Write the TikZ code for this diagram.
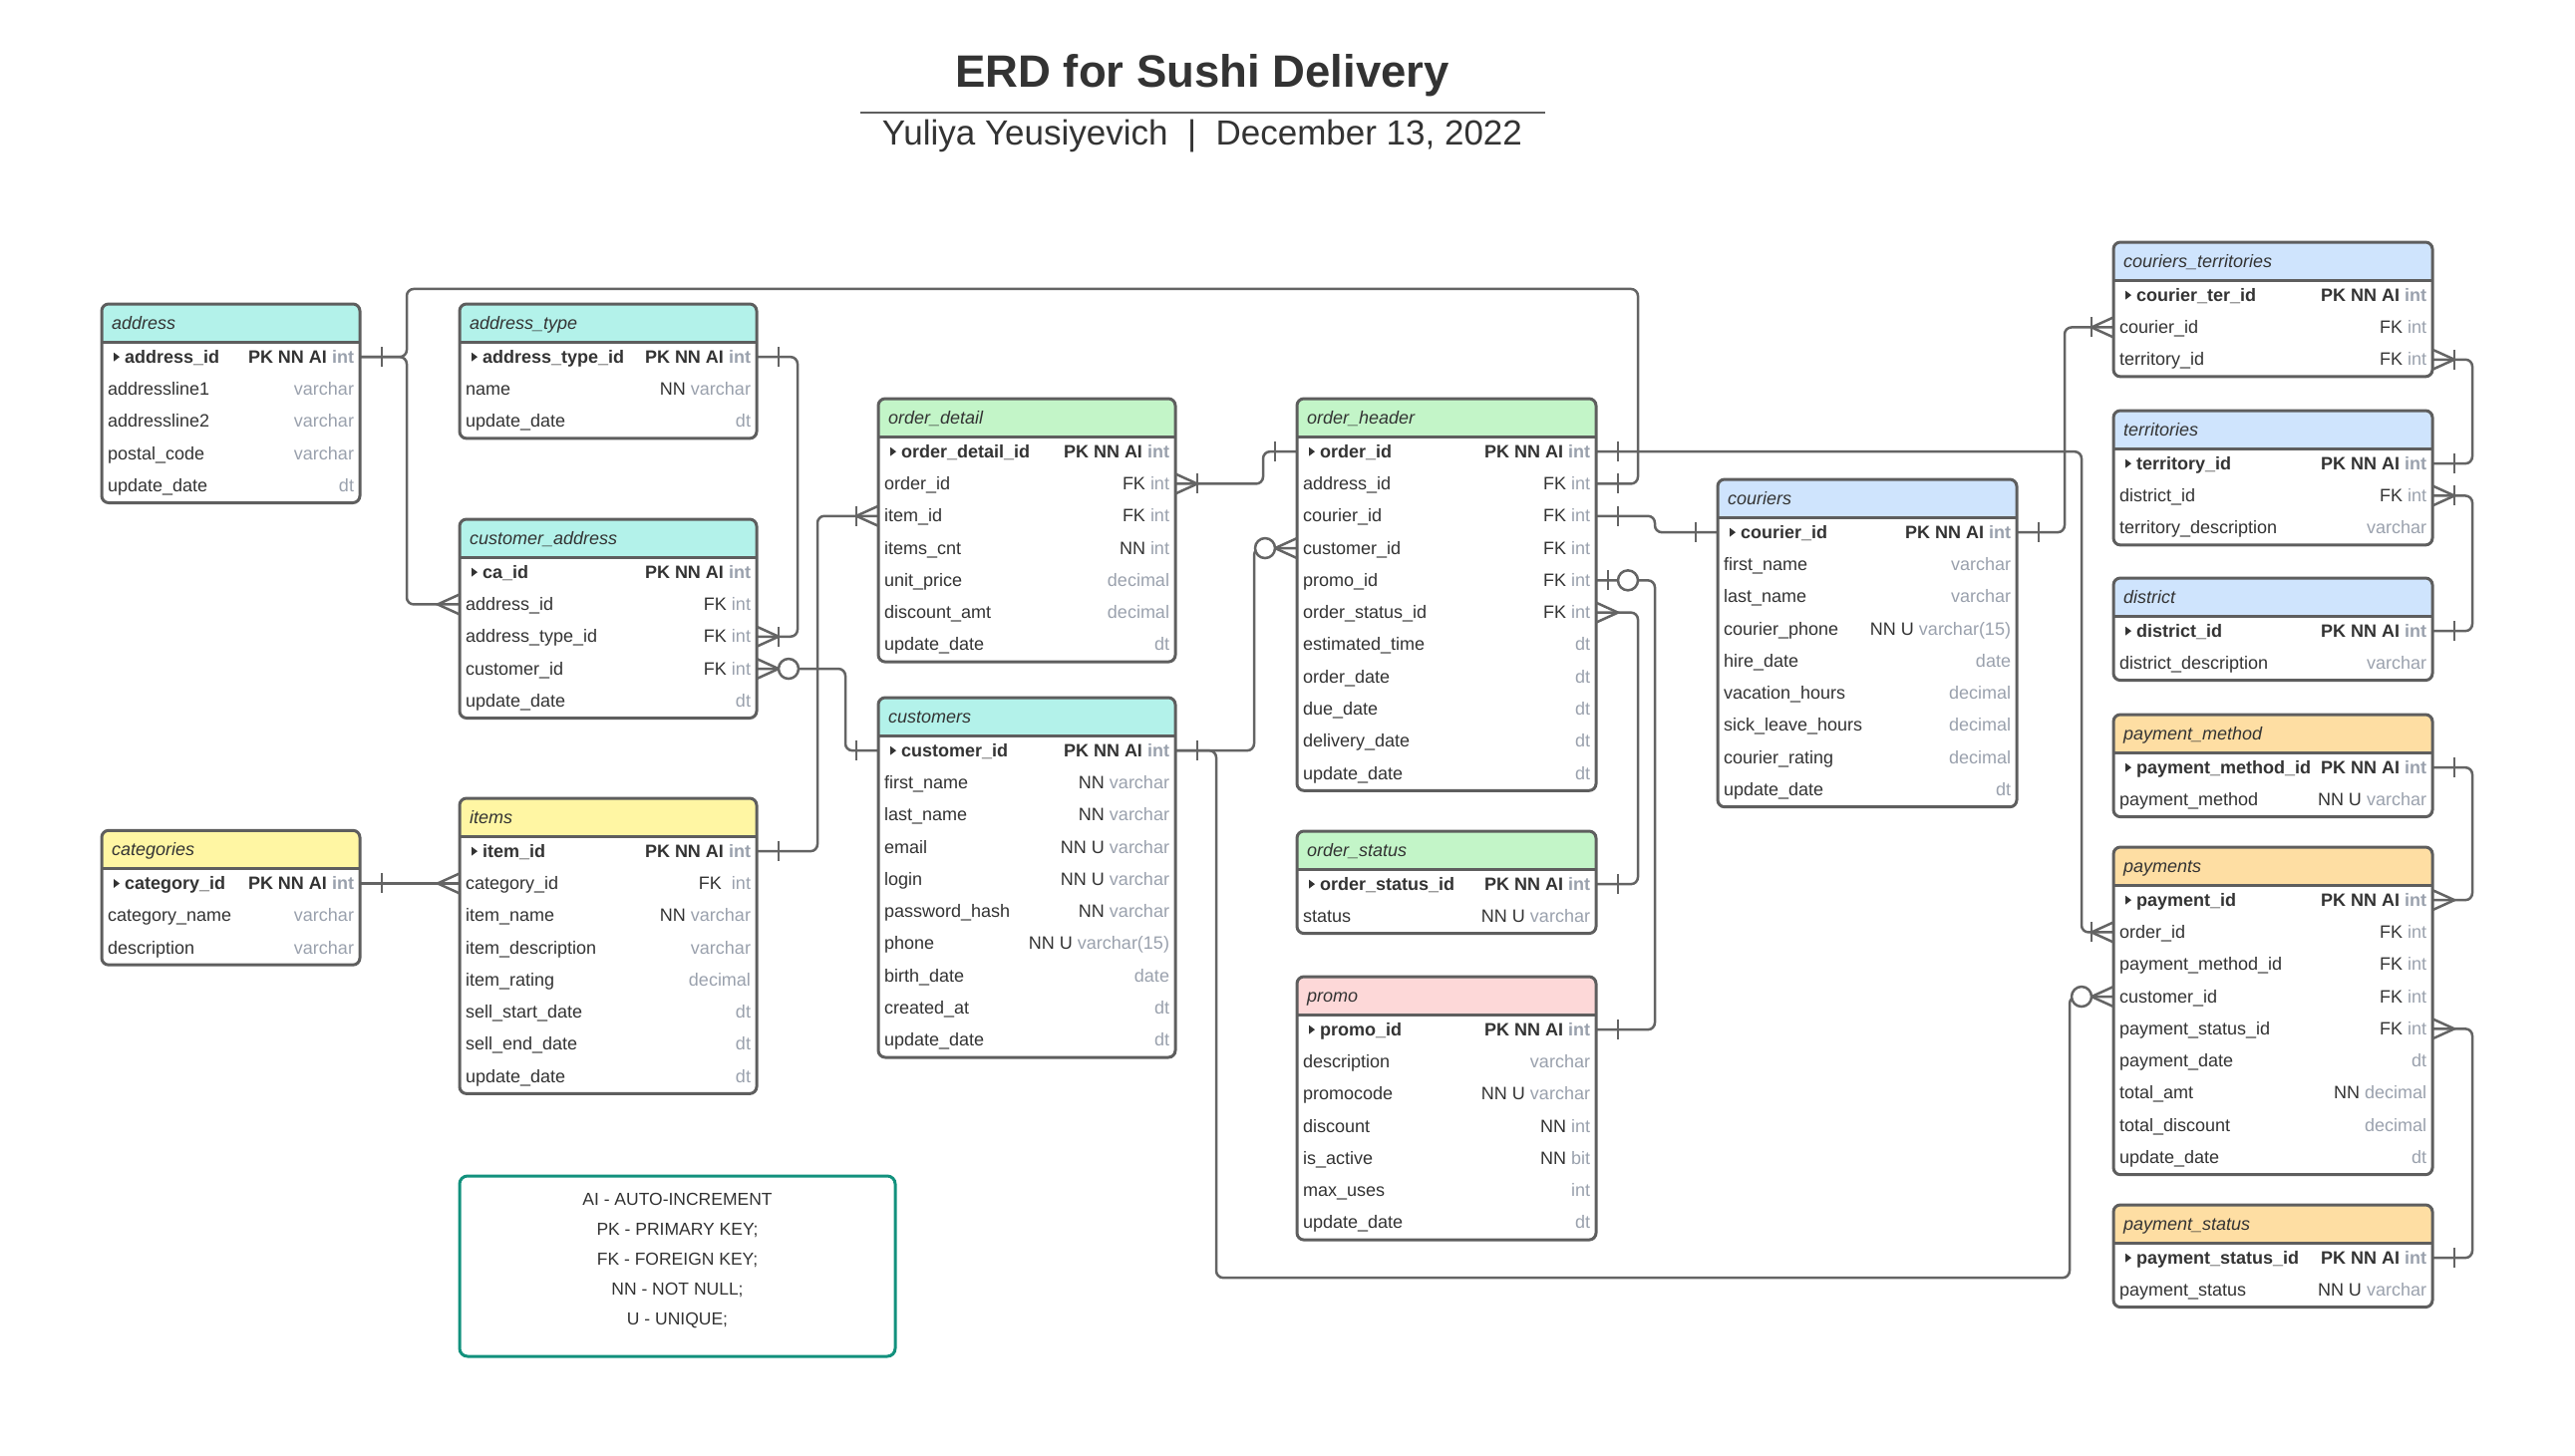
\documentclass[tikz,border=0pt]{standalone}
\usepackage{fontspec}
\setmainfont{Liberation Sans}
\usetikzlibrary{calc}
\pgfdeclarelayer{back}
\pgfdeclarelayer{wires}
\pgfsetlayers{back,wires,main}
\definecolor{cyanH}{HTML}{B3F2EA}
\definecolor{greenH}{HTML}{C3F5C8}
\definecolor{blueH}{HTML}{CFE4FD}
\definecolor{yellowH}{HTML}{FFF6A3}
\definecolor{orangeH}{HTML}{FEDEA3}
\definecolor{pinkH}{HTML}{FDD8D8}
\definecolor{tborderC}{HTML}{5E5E5E}
\definecolor{lineC}{HTML}{646464}
\definecolor{tdark}{HTML}{333333}
\definecolor{tgray}{HTML}{9AA1AD}
\definecolor{legendC}{HTML}{12917D}
\newcommand\gtype[1]{\textcolor{tgray}{#1}}
\tikzset{
  conn/.style={draw=lineC, line width=2.5, rounded corners=7},
  erm/.style={draw=lineC, line width=2.5, sharp corners},
  tbox/.style={fill=white, inner sep=0, outer sep=0, rectangle, rounded corners=7},
  tline/.style={draw=tborderC, line width=3},
  rowbox/.style={inner sep=0, outer sep=0, minimum height=32.3, rectangle},
  rtext/.style={inner sep=0, outer sep=0, text=tdark},
  erone/.pic={\draw[erm] (22,-10) -- (22,10);},
  ermany/.pic={\draw[erm] (0,-10) -- (22,0) -- (0,10);},
  eronemany/.pic={\draw[erm] (0,-10) -- (22,0) -- (0,10); \draw[erm] (22,-10) -- (22,10);},
  erzeromany/.pic={\draw[erm] (0,-10) -- (22,0) -- (0,10); \draw[erm,fill=white] (32,0) circle[radius=10];},
  erzeroone/.pic={\draw[erm] (12,-10) -- (12,10); \draw[erm,fill=white] (32,0) circle[radius=10];},
}
% #1 id, #2 left, #3 right, #4 top, #5 header colour, #6 title, #7 rows name/right
\newcommand\erdtable[7]{%
  \pgfmathsetmacro\tW{#3-#2}%
  \gdef\nrows{0}%
  \foreach \rn/\rv [count=\ri] in {#7} {\xdef\nrows{\ri}}%
  \pgfmathsetmacro\tH{38+\nrows*32.3}%
  \node[tbox, minimum width=\tW, minimum height=\tH, anchor=north west] (#1) at (#2,#4) {};
  \fill[#5, rounded corners=7] (#2,#4+38) -- (#2,#4) -- (#3,#4) -- (#3,#4+38);
  \draw[tline, rounded corners=7] (#1.north west) rectangle (#1.south east);
  \draw[tline] (#2,#4+38) -- (#3,#4+38);
  \node[rtext, anchor=base west] at (#2+10,#4+25) {\itshape #6};
  \foreach \rn/\rv [count=\ri] in {#7} {
    \pgfmathsetmacro\ry{#4+37+(\ri-0.5)*32.3}
    \node[rowbox, minimum width=\tW] (#1-\ri) at ({(#2+#3)/2},\ry) {};
    \ifnum\ri=1
      \fill[tdark] (#2+12,\ry-4.5) -- (#2+18,\ry) -- (#2+12,\ry+4.5) -- cycle;
      \node[rtext, anchor=base west] at (#2+23,\ry+6) {\bfseries\rn};
      \node[rtext, anchor=base east] at (#3-6,\ry+6) {\bfseries\rv};
    \else
      \node[rtext, anchor=base west] at (#2+6,\ry+6) {\rn};
      \node[rtext, anchor=base east] at (#3-6,\ry+6) {\rv};
    \fi
  }
}
\begin{document}
\begin{tikzpicture}[x=1pt, y=-1pt, font=\fontsize{18}{21}\selectfont]
\begin{pgfonlayer}{back}
\fill[white] (0,0) rectangle (2583,1461);
\end{pgfonlayer}
\useasboundingbox (0,0) rectangle (2583,1461);

% title
\node[inner sep=0, anchor=base, text=tdark, font=\bfseries\fontsize{45.5}{50}\selectfont] (title) at (1206,88) {ERD for Sushi Delivery};
\coordinate (ruleL) at (863,113);
\coordinate (ruleR) at (1550,113);
\draw[draw=tborderC, line width=2] (ruleL) -- (ruleR);
\node[inner sep=0, anchor=base, text=tdark, font=\fontsize{35}{40}\selectfont] (subtitle) at (1206,146) {Yuliya Yeusiyevich \ | \ December 13, 2022};

% ---------- tables ----------
\erdtable{addr}{102}{361}{305}{cyanH}{address}{
  address\_id/PK NN AI \gtype{int},
  addressline1/\gtype{varchar},
  addressline2/\gtype{varchar},
  postal\_code/\gtype{varchar},
  update\_date/\gtype{dt}}
\erdtable{atype}{461}{759}{305}{cyanH}{address\_type}{
  address\_type\_id/PK NN AI \gtype{int},
  name/NN \gtype{varchar},
  update\_date/\gtype{dt}}
\erdtable{caddr}{461}{759}{521}{cyanH}{customer\_address}{
  ca\_id/PK NN AI \gtype{int},
  address\_id/FK \gtype{int},
  address\_type\_id/FK \gtype{int},
  customer\_id/FK \gtype{int},
  update\_date/\gtype{dt}}
\erdtable{cat}{102}{361}{833.3}{yellowH}{categories}{
  category\_id/PK NN AI \gtype{int},
  category\_name/\gtype{varchar},
  description/\gtype{varchar}}
\erdtable{items}{461}{759}{801}{yellowH}{items}{
  item\_id/PK NN AI \gtype{int},
  category\_id/FK \ \gtype{int},
  item\_name/NN \gtype{varchar},
  item\_description/\gtype{varchar},
  item\_rating/\gtype{decimal},
  sell\_start\_date/\gtype{dt},
  sell\_end\_date/\gtype{dt},
  update\_date/\gtype{dt}}
\erdtable{odet}{881}{1179}{400}{greenH}{order\_detail}{
  order\_detail\_id/PK NN AI \gtype{int},
  order\_id/FK \gtype{int},
  item\_id/FK \gtype{int},
  items\_cnt/NN \gtype{int},
  unit\_price/\gtype{decimal},
  discount\_amt/\gtype{decimal},
  update\_date/\gtype{dt}}
\erdtable{cust}{881}{1179}{700}{cyanH}{customers}{
  customer\_id/PK NN AI \gtype{int},
  first\_name/NN \gtype{varchar},
  last\_name/NN \gtype{varchar},
  email/NN U \gtype{varchar},
  login/NN U \gtype{varchar},
  password\_hash/NN \gtype{varchar},
  phone/NN U \gtype{varchar(15)},
  birth\_date/\gtype{date},
  created\_at/\gtype{dt},
  update\_date/\gtype{dt}}
\erdtable{ohead}{1301}{1601}{400}{greenH}{order\_header}{
  order\_id/PK NN AI \gtype{int},
  address\_id/FK \gtype{int},
  courier\_id/FK \gtype{int},
  customer\_id/FK \gtype{int},
  promo\_id/FK \gtype{int},
  order\_status\_id/FK \gtype{int},
  estimated\_time/\gtype{dt},
  order\_date/\gtype{dt},
  due\_date/\gtype{dt},
  delivery\_date/\gtype{dt},
  update\_date/\gtype{dt}}
\erdtable{ostat}{1301}{1601}{834}{greenH}{order\_status}{
  order\_status\_id/PK NN AI \gtype{int},
  status/NN U \gtype{varchar}}
\erdtable{promo}{1301}{1601}{980}{pinkH}{promo}{
  promo\_id/PK NN AI \gtype{int},
  description/\gtype{varchar},
  promocode/NN U \gtype{varchar},
  discount/NN \gtype{int},
  is\_active/NN \gtype{bit},
  max\_uses/\gtype{int},
  update\_date/\gtype{dt}}
\erdtable{cour}{1723}{2023}{481}{blueH}{couriers}{
  courier\_id/PK NN AI \gtype{int},
  first\_name/\gtype{varchar},
  last\_name/\gtype{varchar},
  courier\_phone/NN U \gtype{varchar(15)},
  hire\_date/\gtype{date},
  vacation\_hours/\gtype{decimal},
  sick\_leave\_hours/\gtype{decimal},
  courier\_rating/\gtype{decimal},
  update\_date/\gtype{dt}}
\erdtable{ctr}{2120}{2440}{243}{blueH}{couriers\_territories}{
  courier\_ter\_id/PK NN AI \gtype{int},
  courier\_id/FK \gtype{int},
  territory\_id/FK \gtype{int}}
\erdtable{terr}{2120}{2440}{412}{blueH}{territories}{
  territory\_id/PK NN AI \gtype{int},
  district\_id/FK \gtype{int},
  territory\_description/\gtype{varchar}}
\erdtable{dist}{2120}{2440}{580}{blueH}{district}{
  district\_id/PK NN AI \gtype{int},
  district\_description/\gtype{varchar}}
\erdtable{pmeth}{2120}{2440}{717}{orangeH}{payment\_method}{
  payment\_method\_id/PK NN AI \gtype{int},
  payment\_method/NN U \gtype{varchar}}
\erdtable{pay}{2120}{2440}{850}{orangeH}{payments}{
  payment\_id/PK NN AI \gtype{int},
  order\_id/FK \gtype{int},
  payment\_method\_id/FK \gtype{int},
  customer\_id/FK \gtype{int},
  payment\_status\_id/FK \gtype{int},
  payment\_date/\gtype{dt},
  total\_amt/NN \gtype{decimal},
  total\_discount/\gtype{decimal},
  update\_date/\gtype{dt}}
\erdtable{pstat}{2120}{2440}{1209}{orangeH}{payment\_status}{
  payment\_status\_id/PK NN AI \gtype{int},
  payment\_status/NN U \gtype{varchar}}

% legend
\node[draw=legendC, line width=3, rounded corners=8, fill=white, minimum width=437, minimum height=181, inner sep=0] (legend) at (679.5,1270.5) {};
\node[text=tdark, align=center, inner sep=0, font=\fontsize{17.5}{30}\selectfont] (legendtext) at (679.5,1265) {AI - AUTO-INCREMENT\\PK - PRIMARY KEY;\\FK - FOREIGN KEY;\\NN - NOT NULL;\\U - UNIQUE;};

% ---------- connectors ----------
\begin{pgfonlayer}{wires}
\path[conn] (addr-1.east) -- ++(47,0) |- (caddr-2.west);
\path[conn] (ohead-2.east) -- ++(42,0) -- ++(0,-195.5) -- ++(-1235,0) |- (addr-1.east);
\path[conn] (atype-1.east) -- ++(41,0) |- (caddr-3.east);
\path[conn] (caddr-4.east) -- ++(89,0) |- (cust-1.west);
\path[conn] (cat-1.east) -- (items-2.west);
\path[conn] (items-1.east) -- ++(61,0) |- (odet-3.west);
\path[conn] (odet-2.east) -- ++(88,0) |- (ohead-1.west);
\path[conn] (ohead-1.east) -- ++(487,0) |- (pay-2.west);
\path[conn] (cust-1.east) -- ++(79,0) |- (ohead-4.west);
\path[conn] (cust-1.east) -- ++(41,0) -- ++(0,529) -- ++(856,0) |- (pay-4.west);
\path[conn] (ohead-3.east) -- ++(59,0) |- (cour-1.west);
\path[conn] (cour-1.east) -- ++(48,0) |- (ctr-2.west);
\path[conn] (ctr-3.east) -- ++(40,0) |- (terr-1.east);
\path[conn] (terr-2.east) -- ++(40,0) |- (dist-1.east);
\path[conn] (pmeth-1.east) -- ++(40,0) |- (pay-1.east);
\path[conn] (pay-5.east) -- ++(40,0) |- (pstat-1.east);
\path[conn] (ohead-6.east) -- ++(42,0) |- (ostat-1.east);
\path[conn] (ohead-5.east) -- ++(59,0) |- (promo-1.east);
\end{pgfonlayer}

% ---------- end marks ----------
\pic at (addr-1.east) {erone};
\pic[xscale=-1] at (caddr-2.west) {ermany};
\pic at (ohead-2.east) {erone};
\pic at (atype-1.east) {erone};
\pic at (caddr-3.east) {eronemany};
\pic at (caddr-4.east) {erzeromany};
\pic[xscale=-1] at (cust-1.west) {erone};
\pic at (cat-1.east) {erone};
\pic[xscale=-1] at (items-2.west) {ermany};
\pic at (items-1.east) {erone};
\pic[xscale=-1] at (odet-3.west) {eronemany};
\pic at (odet-2.east) {eronemany};
\pic[xscale=-1] at (ohead-1.west) {erone};
\pic at (ohead-1.east) {erone};
\pic[xscale=-1] at (pay-2.west) {eronemany};
\pic at (cust-1.east) {erone};
\pic[xscale=-1] at (ohead-4.west) {erzeromany};
\pic[xscale=-1] at (pay-4.west) {erzeromany};
\pic at (ohead-3.east) {erone};
\pic[xscale=-1] at (cour-1.west) {erone};
\pic at (cour-1.east) {erone};
\pic[xscale=-1] at (ctr-2.west) {eronemany};
\pic at (ctr-3.east) {eronemany};
\pic at (terr-1.east) {erone};
\pic at (terr-2.east) {eronemany};
\pic at (dist-1.east) {erone};
\pic at (pmeth-1.east) {erone};
\pic at (pay-1.east) {ermany};
\pic at (pay-5.east) {ermany};
\pic at (pstat-1.east) {erone};
\pic at (ohead-6.east) {ermany};
\pic at (ostat-1.east) {erone};
\pic at (ohead-5.east) {erzeroone};
\pic at (promo-1.east) {erone};
\end{tikzpicture}
\end{document}
